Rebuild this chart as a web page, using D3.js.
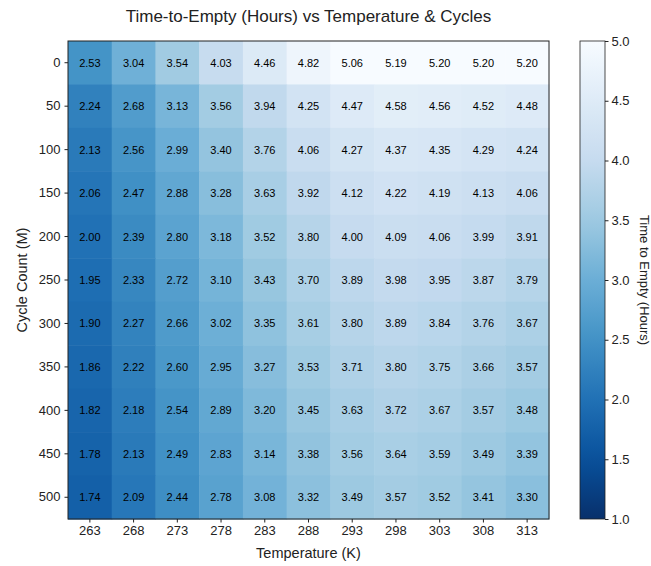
<!DOCTYPE html>
<html>
<head>
<meta charset="utf-8">
<script src="https://cdn.jsdelivr.net/npm/d3@7"></script>
<style>
  body { margin: 0; background: #fff; }
  text { font-family: "Liberation Sans", Arial, sans-serif; }
</style>
</head>
<body>
<svg id="chart" width="651" height="566"></svg>
<script>
// temperatures (columns) and cycle counts (rows)
const temps = [263, 268, 273, 278, 283, 288, 293, 298, 303, 308, 313];
const cycles = [0, 50, 100, 150, 200, 250, 300, 350, 400, 450, 500];

// time to empty, one row per cycle count
const tte = [
    [2.53, 3.04, 3.54, 4.03, 4.46, 4.82, 5.06, 5.19, 5.20, 5.20, 5.20],
    [2.24, 2.68, 3.13, 3.56, 3.94, 4.25, 4.47, 4.58, 4.56, 4.52, 4.48],
    [2.13, 2.56, 2.99, 3.40, 3.76, 4.06, 4.27, 4.37, 4.35, 4.29, 4.24],
    [2.06, 2.47, 2.88, 3.28, 3.63, 3.92, 4.12, 4.22, 4.19, 4.13, 4.06],
    [2.00, 2.39, 2.80, 3.18, 3.52, 3.80, 4.00, 4.09, 4.06, 3.99, 3.91],
    [1.95, 2.33, 2.72, 3.10, 3.43, 3.70, 3.89, 3.98, 3.95, 3.87, 3.79],
    [1.90, 2.27, 2.66, 3.02, 3.35, 3.61, 3.80, 3.89, 3.84, 3.76, 3.67],
    [1.86, 2.22, 2.60, 2.95, 3.27, 3.53, 3.71, 3.80, 3.75, 3.66, 3.57],
    [1.82, 2.18, 2.54, 2.89, 3.20, 3.45, 3.63, 3.72, 3.67, 3.57, 3.48],
    [1.78, 2.13, 2.49, 2.83, 3.14, 3.38, 3.56, 3.64, 3.59, 3.49, 3.39],
    [1.74, 2.09, 2.44, 2.78, 3.08, 3.32, 3.49, 3.57, 3.52, 3.41, 3.30]
];

const cbTicks = [1.0, 1.5, 2.0, 2.5, 3.0, 3.5, 4.0, 4.5, 5.0];

const svg = d3.select("#chart");

const pLeft = 68, pTop = 41, pRight = 549, pBottom = 519;

const x = d3.scaleBand().domain(temps).range([pLeft, pRight]);
const y = d3.scaleBand().domain(cycles).range([pTop, pBottom]);

// matplotlib "Blues" reversed, vmin 1 vmax 5
const blues = ["#f7fbff", "#deebf7", "#c6dbef", "#9ecae1", "#6baed6", "#4292c6", "#2171b5", "#08519c", "#08306b"];
const color = d3.scaleLinear()
    .domain(d3.range(9).map(i => 5 - i * 0.5))
    .range(blues)
    .clamp(true);

const cells = [];
tte.forEach((row, i) => row.forEach((v, j) => cells.push({ c: cycles[i], t: temps[j], v: v })));

svg.append("g").selectAll("rect")
    .data(cells)
    .enter()
    .append("rect")
    .attr("x", d => x(d.t))
    .attr("y", d => y(d.c))
    .attr("width", x.bandwidth() + 0.5)
    .attr("height", y.bandwidth() + 0.5)
    .attr("fill", d => color(d.v));

svg.append("g").selectAll("text")
    .data(cells)
    .enter()
    .append("text")
    .attr("x", d => x(d.t) + x.bandwidth() / 2)
    .attr("y", d => y(d.c) + y.bandwidth() / 2)
    .attr("text-anchor", "middle")
    .attr("dominant-baseline", "central")
    .attr("font-size", "11px")
    .attr("fill", "#000")
    .text(d => d.v.toFixed(2));

// frame
svg.append("rect")
    .attr("x", pLeft).attr("y", pTop)
    .attr("width", pRight - pLeft).attr("height", pBottom - pTop)
    .attr("fill", "none").attr("stroke", "#222").attr("stroke-width", 1);

// axes
const xAxis = svg.append("g")
    .attr("transform", `translate(0,${pBottom})`)
    .call(d3.axisBottom(x).tickSize(3.5).tickPadding(3));
const yAxis = svg.append("g")
    .attr("transform", `translate(${pLeft},0)`)
    .call(d3.axisLeft(y).tickSize(3.5).tickPadding(4));
[xAxis, yAxis].forEach(a => {
    a.select(".domain").remove();
    a.selectAll("text").attr("font-size", "13px").attr("fill", "#222")
        .attr("font-family", "'Liberation Sans', Arial, sans-serif");
    a.selectAll("line").attr("stroke", "#222");
});

svg.append("text")
    .attr("x", (pLeft + pRight) / 2).attr("y", 558)
    .attr("text-anchor", "middle")
    .attr("font-size", "14.5px").attr("fill", "#222")
    .text("Temperature (K)");

svg.append("text")
    .attr("transform", `translate(27,${(pTop + pBottom) / 2}) rotate(-90)`)
    .attr("text-anchor", "middle")
    .attr("font-size", "14.5px").attr("fill", "#222")
    .text("Cycle Count (M)");

svg.append("text")
    .attr("x", (pLeft + pRight) / 2).attr("y", 22)
    .attr("text-anchor", "middle")
    .attr("font-size", "17px").attr("fill", "#222")
    .text("Time-to-Empty (Hours) vs Temperature & Cycles");

// colorbar
const cbX = 580, cbW = 25;
const cbScale = d3.scaleLinear().domain([1, 5]).range([pBottom, pTop]);

const defs = svg.append("defs");
const grad = defs.append("linearGradient")
    .attr("id", "cbgrad")
    .attr("x1", 0).attr("y1", 1).attr("x2", 0).attr("y2", 0);
d3.range(0, 1.0001, 0.05).forEach(p => {
    grad.append("stop")
        .attr("offset", p)
        .attr("stop-color", color(1 + p * 4));
});

svg.append("rect")
    .attr("x", cbX).attr("y", pTop)
    .attr("width", cbW).attr("height", pBottom - pTop)
    .attr("fill", "url(#cbgrad)")
    .attr("stroke", "#222").attr("stroke-width", 0.8);

const cbAxis = svg.append("g")
    .attr("transform", `translate(${cbX + cbW},0)`)
    .call(d3.axisRight(cbScale).tickValues(cbTicks).tickFormat(d3.format(".1f")).tickSize(3.5).tickPadding(3));
cbAxis.select(".domain").remove();
cbAxis.selectAll("text").attr("font-size", "13px").attr("fill", "#222")
    .attr("font-family", "'Liberation Sans', Arial, sans-serif");
cbAxis.selectAll("line").attr("stroke", "#222");

svg.append("text")
    .attr("transform", `translate(640,${(pTop + pBottom) / 2}) rotate(90)`)
    .attr("text-anchor", "middle")
    .attr("font-size", "13px").attr("fill", "#222")
    .text("Time to Empty (Hours)");
</script>
</body>
</html>
